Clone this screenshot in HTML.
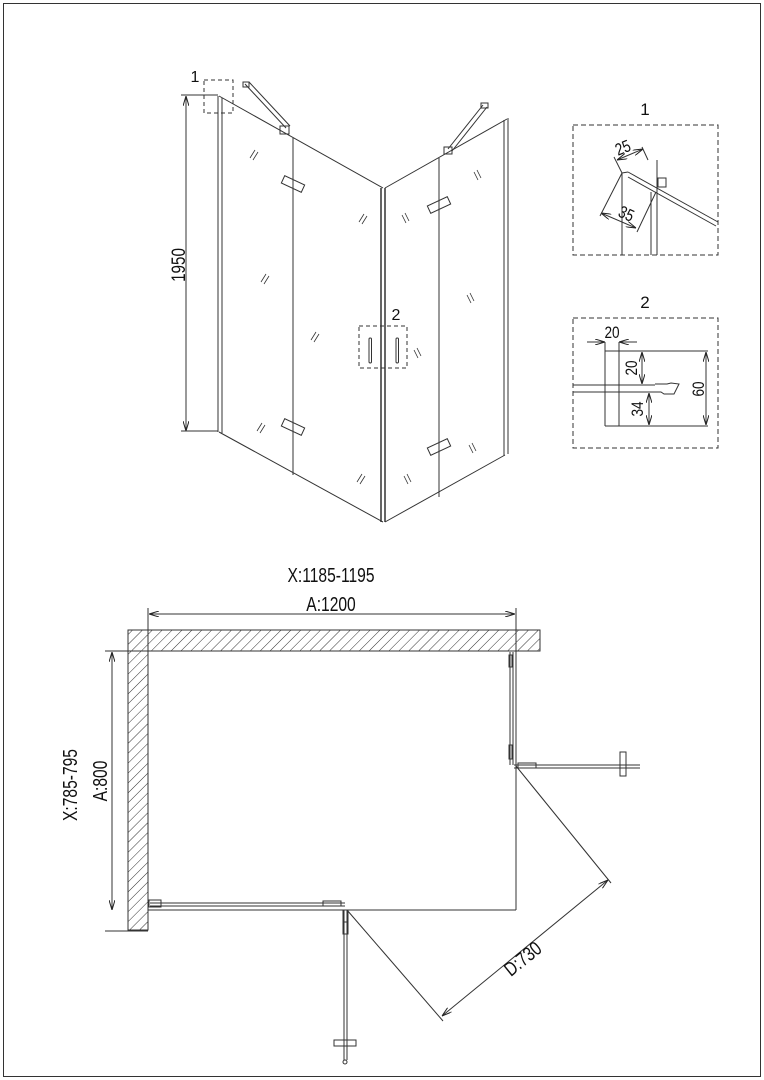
<!DOCTYPE html>
<html><head><meta charset="utf-8"><style>
html,body{margin:0;padding:0;background:#fff}
svg{display:block}
text{font-family:"Liberation Sans",sans-serif;fill:#111}
</style></head><body>
<svg width="764" height="1080" viewBox="0 0 764 1080" xmlns="http://www.w3.org/2000/svg">
<defs>
<pattern id="h" width="7" height="7" patternUnits="userSpaceOnUse" patternTransform="rotate(45)">
<line x1="0" y1="0" x2="0" y2="7" stroke="#333" stroke-width="1"/>
</pattern>
<marker id="a" viewBox="0 0 10 6" refX="10" refY="3" markerWidth="10" markerHeight="6" orient="auto-start-reverse" markerUnits="userSpaceOnUse"><path d="M0,0 L10,3 L0,6" fill="none" stroke="#222" stroke-width="1"/></marker>
</defs>
<rect x="3.5" y="3.5" width="757" height="1073" fill="none" stroke="#333" stroke-width="1"/>

<g stroke="#333" fill="none" stroke-width="1">
<rect x="204" y="80" width="29" height="33" stroke-dasharray="4,3"/>
<line x1="186" y1="96" x2="186" y2="431" marker-start="url(#a)" marker-end="url(#a)"/>
<line x1="181" y1="95" x2="218" y2="95"/>
<line x1="181" y1="431" x2="218" y2="431"/>
<line x1="218" y1="96" x2="218" y2="432"/>
<line x1="222" y1="98" x2="222" y2="433"/>
<line x1="219" y1="96" x2="383" y2="188"/>
<line x1="219" y1="432" x2="383" y2="522"/>
<line x1="293" y1="138" x2="293" y2="475"/>
<line x1="381" y1="188" x2="381" y2="522" stroke-width="1.5"/>
<line x1="385" y1="188" x2="385" y2="522" stroke-width="1.5"/>
<line x1="385" y1="188" x2="507" y2="119"/>
<line x1="385" y1="522" x2="505" y2="455"/>
<line x1="504" y1="120" x2="504" y2="456"/>
<line x1="508" y1="118" x2="508" y2="454"/>
<line x1="439" y1="158" x2="439" y2="497"/>
<line x1="245" y1="84" x2="286" y2="128"/><line x1="249" y1="82" x2="290" y2="126"/>
<rect x="243" y="82" width="6" height="5"/><rect x="280" y="126" width="9" height="8"/>
<line x1="483" y1="105" x2="448" y2="149"/><line x1="487" y1="107" x2="452" y2="151"/>
<rect x="481" y="103" width="7" height="5"/><rect x="444" y="147" width="8" height="7"/>
<g transform="translate(293,184) rotate(25)"><rect x="-11" y="-4" width="22" height="8"/></g>
<g transform="translate(293,427) rotate(25)"><rect x="-11" y="-4" width="22" height="8"/></g>
<g transform="translate(439,205) rotate(-25)"><rect x="-11" y="-4" width="22" height="8"/></g>
<g transform="translate(439,447) rotate(-25)"><rect x="-11" y="-4" width="22" height="8"/></g>
<rect x="359" y="326" width="48" height="42" stroke-dasharray="4,3"/>
<rect x="369" y="338" width="2.5" height="25" rx="1.2"/>
<rect x="396" y="338" width="2.5" height="25" rx="1.2"/>
<g stroke-width="0.8">
<path d="M250,158 l5,-8 M253,160 l5,-8"/>
<path d="M261,282 l5,-8 M264,284 l5,-8"/>
<path d="M257,431 l5,-8 M260,433 l5,-8"/>
<path d="M311,340 l5,-8 M314,342 l5,-8"/>
<path d="M359,222 l5,-8 M362,224 l5,-8"/>
<path d="M357,482 l5,-8 M360,484 l5,-8"/>
<path d="M402,215 l4,8 M405,213 l4,8"/>
<path d="M404,476 l4,8 M407,474 l4,8"/>
<path d="M414,350 l4,8 M417,348 l4,8"/>
<path d="M474,172 l4,8 M477,170 l4,8"/>
<path d="M467,295 l4,8 M470,293 l4,8"/>
<path d="M469,445 l4,8 M472,443 l4,8"/>
</g>

<rect x="573" y="125" width="145" height="130" stroke-dasharray="5,3"/>
<line x1="622" y1="173" x2="622" y2="255"/>
<line x1="651" y1="192" x2="651" y2="255"/>
<line x1="657" y1="160" x2="657" y2="255"/>
<line x1="628" y1="172" x2="718" y2="222"/>
<line x1="628" y1="177" x2="716" y2="226"/>
<line x1="622" y1="173" x2="628" y2="172"/>
<rect x="658" y="178" width="8" height="9"/>
<line x1="617" y1="160" x2="643" y2="149" marker-start="url(#a)" marker-end="url(#a)"/>
<line x1="614" y1="157" x2="622" y2="173"/><line x1="642" y1="147" x2="648" y2="160"/>
<line x1="601" y1="213" x2="636" y2="228" marker-start="url(#a)" marker-end="url(#a)"/>
<line x1="622" y1="173" x2="600" y2="216"/><line x1="656" y1="192" x2="637" y2="232"/>

<rect x="573" y="318" width="145" height="130" stroke-dasharray="5,3"/>
<line x1="605" y1="351" x2="605" y2="426"/>
<line x1="619" y1="351" x2="619" y2="426"/>
<line x1="605" y1="351" x2="708" y2="351"/>
<line x1="605" y1="426" x2="708" y2="426"/>
<line x1="573" y1="385" x2="655" y2="385"/>
<line x1="573" y1="392" x2="655" y2="392"/>
<path d="M655,384 h12 l4,-1 l8,1 l-5,10 h-10 l-3,-2 h-6"/>
<line x1="587" y1="342" x2="605" y2="342" marker-end="url(#a)"/>
<line x1="637" y1="342" x2="619" y2="342" marker-end="url(#a)"/>
<line x1="605" y1="342" x2="605" y2="351"/>
<line x1="619" y1="342" x2="619" y2="351"/>
<line x1="642" y1="352" x2="642" y2="384" marker-start="url(#a)" marker-end="url(#a)"/>
<line x1="649" y1="393" x2="649" y2="425" marker-start="url(#a)" marker-end="url(#a)"/>
<line x1="706" y1="352" x2="706" y2="425" marker-start="url(#a)" marker-end="url(#a)"/>
</g>

<rect x="128" y="630" width="412" height="21" fill="url(#h)" stroke="#333"/>
<rect x="128" y="651" width="20" height="279" fill="url(#h)" stroke="#333"/>
<g stroke="#333" fill="none" stroke-width="1">
<line x1="148" y1="651" x2="148" y2="930"/>
<line x1="148" y1="608" x2="148" y2="651"/>
<line x1="516" y1="608" x2="516" y2="651"/>
<line x1="149" y1="614" x2="515" y2="614" marker-start="url(#a)" marker-end="url(#a)"/>
<line x1="105" y1="651" x2="148" y2="651"/>
<line x1="105" y1="931" x2="148" y2="931"/>
<line x1="112" y1="652" x2="112" y2="910" marker-start="url(#a)" marker-end="url(#a)"/>
<line x1="148" y1="910" x2="516" y2="910"/>
<line x1="516" y1="651" x2="516" y2="910"/>
<line x1="510" y1="652" x2="510" y2="765"/><line x1="513" y1="652" x2="513" y2="765"/>
<rect x="509" y="655" width="3" height="12"/><rect x="509" y="745" width="3" height="14"/>
<line x1="514" y1="765" x2="640" y2="765"/><line x1="514" y1="768" x2="640" y2="768"/>
<rect x="518" y="763" width="18" height="5"/>
<rect x="620" y="752" width="6" height="24"/>
<line x1="150" y1="903" x2="345" y2="903"/><line x1="150" y1="906" x2="345" y2="906"/>
<rect x="149" y="900" width="12" height="7"/>
<rect x="323" y="901" width="18" height="5"/>
<line x1="344" y1="910" x2="344" y2="1060"/><line x1="347" y1="910" x2="347" y2="1060"/>
<rect x="343" y="910" width="5" height="12"/><rect x="343" y="922" width="5" height="12"/>
<rect x="334" y="1040" width="22" height="6"/>
<circle cx="345" cy="1062" r="2"/>
<line x1="516" y1="766" x2="611" y2="883"/>
<line x1="347" y1="910" x2="443" y2="1021"/>
<line x1="442" y1="1016" x2="608" y2="880" marker-start="url(#a)" marker-end="url(#a)"/>
</g>

<text x="195" y="82" font-size="16" text-anchor="middle">1</text>
<text transform="translate(185,265) rotate(-90) scale(0.8,1)" font-size="19" text-anchor="middle">1950</text>
<text x="396" y="320" font-size="16" text-anchor="middle">2</text>
<text x="645" y="115" font-size="17" text-anchor="middle">1</text>
<text x="645" y="308" font-size="17" text-anchor="middle">2</text>
<text transform="translate(625,153) rotate(-22) scale(0.8,1)" font-size="17" text-anchor="middle">25</text>
<text transform="translate(624,219) rotate(24) scale(0.8,1)" font-size="17" text-anchor="middle">35</text>
<text transform="translate(612,338) scale(0.8,1)" font-size="17" text-anchor="middle">20</text>
<text transform="translate(637,368) rotate(-90) scale(0.8,1)" font-size="17" text-anchor="middle">20</text>
<text transform="translate(643,409) rotate(-90) scale(0.8,1)" font-size="17" text-anchor="middle">34</text>
<text transform="translate(704,389) rotate(-90) scale(0.8,1)" font-size="17" text-anchor="middle">60</text>
<text transform="translate(331,582) scale(0.78,1)" font-size="20" text-anchor="middle">X:1185-1195</text>
<text transform="translate(331,611) scale(0.78,1)" font-size="20" text-anchor="middle">A:1200</text>
<text transform="translate(77,785) rotate(-90) scale(0.78,1)" font-size="20" text-anchor="middle">X:785-795</text>
<text transform="translate(107,781) rotate(-90) scale(0.78,1)" font-size="20" text-anchor="middle">A:800</text>
<text transform="translate(527,964) rotate(-39) scale(0.78,1)" font-size="20" text-anchor="middle">D:730</text>
</svg>
</body></html>
